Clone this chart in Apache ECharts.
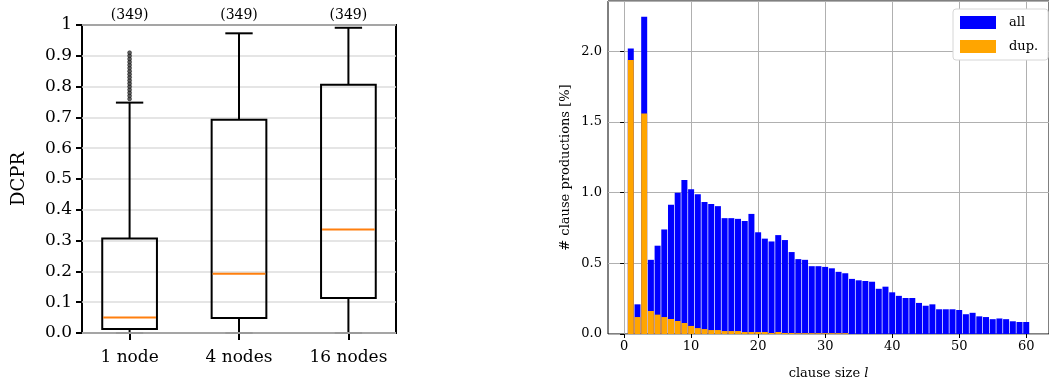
<!DOCTYPE html>
<html>
<head>
<meta charset="UTF-8">
<title>DCPR boxplot / clause size histogram</title>
<style>
  html, body { margin: 0; padding: 0; background: #fff; }
  #chart { width: 1049px; height: 385px; }
</style>
</head>
<body>
<div id="chart"></div>
<script src="https://cdn.jsdelivr.net/npm/echarts@6/dist/echarts.min.js"></script>
<script>
// left panel: DCPR per setup
var setups = ["1 node", "4 nodes", "16 nodes"];
var counts = [349, 349, 349];
// [min, Q1, median, Q3, max]
var boxStats = [
  [0.0, 0.013, 0.050, 0.307, 0.748],
  [0.0, 0.049, 0.192, 0.692, 0.973],
  [0.0, 0.114, 0.336, 0.806, 0.991]
];
var outliers1 = [0.76, 0.77, 0.78, 0.79, 0.80, 0.81, 0.82, 0.83, 0.84, 0.85, 0.86, 0.87, 0.88, 0.89, 0.90, 0.91];

// right panel: clause productions by clause size
var clauseSizes = [1, 2, 3, 4, 5, 6, 7, 8, 9, 10, 11, 12, 13, 14, 15, 16, 17, 18, 19, 20,
  21, 22, 23, 24, 25, 26, 27, 28, 29, 30, 31, 32, 33, 34, 35, 36, 37, 38, 39, 40,
  41, 42, 43, 44, 45, 46, 47, 48, 49, 50, 51, 52, 53, 54, 55, 56, 57, 58, 59, 60];
var allPct = [2.02, 0.21, 2.245, 0.525, 0.625, 0.74, 0.915, 1.0, 1.09, 1.025,
  0.99, 0.935, 0.92, 0.905, 0.82, 0.82, 0.815, 0.80, 0.85, 0.72,
  0.675, 0.655, 0.70, 0.665, 0.58, 0.53, 0.525, 0.48, 0.48, 0.475,
  0.465, 0.44, 0.43, 0.39, 0.38, 0.375, 0.37, 0.32, 0.335, 0.295,
  0.27, 0.255, 0.255, 0.22, 0.20, 0.21, 0.175, 0.175, 0.175, 0.17,
  0.14, 0.15, 0.125, 0.12, 0.105, 0.11, 0.105, 0.09, 0.085, 0.085];
var dupPct = [1.94, 0.12, 1.56, 0.163, 0.137, 0.12, 0.106, 0.092, 0.078, 0.057,
  0.042, 0.035, 0.028, 0.028, 0.021, 0.021, 0.021, 0.014, 0.014, 0.014,
  0.014, 0.007, 0.014, 0.007, 0.007, 0.006, 0.006, 0.006, 0.006, 0.006,
  0.006, 0.006, 0.006, 0, 0, 0, 0, 0, 0, 0,
  0, 0, 0, 0, 0, 0, 0, 0, 0, 0,
  0, 0, 0, 0, 0, 0, 0, 0, 0, 0];
var sizeTicks = [0, 10, 20, 30, 40, 50, 60];

var serif = "DejaVu Serif";
var chart = echarts.init(document.getElementById("chart"));

var boxData = boxStats.map(function (s, i) { return [i + 1].concat(s); });
var outlierData = outliers1.map(function (v) { return [1, v]; });

// matplotlib-like box: whiskers, half-width caps, orange median
function renderBox(params, api) {
  var x = api.value(0);
  var lo = api.value(1), q1 = api.value(2), med = api.value(3), q3 = api.value(4), hi = api.value(5);
  var a = api.coord([x - 0.25, q3]);
  var b = api.coord([x + 0.25, q1]);
  var c = api.coord([x, hi]);
  var d = api.coord([x, lo]);
  var pq1 = api.coord([x, q1]);
  var pq3 = api.coord([x, q3]);
  var capL = api.coord([x - 0.125, 0])[0];
  var capR = api.coord([x + 0.125, 0])[0];
  var m = api.coord([x, med]);
  var black = { stroke: "#000", lineWidth: 2, fill: null };
  return {
    type: "group",
    children: [
      { type: "line", shape: { x1: c[0], y1: c[1], x2: pq3[0], y2: pq3[1] }, style: black },
      { type: "line", shape: { x1: d[0], y1: d[1], x2: pq1[0], y2: pq1[1] }, style: black },
      { type: "line", shape: { x1: capL, y1: c[1], x2: capR, y2: c[1] }, style: black },
      { type: "line", shape: { x1: capL, y1: d[1], x2: capR, y2: d[1] }, style: { stroke: "#999", lineWidth: 2 } },
      { type: "rect", shape: { x: a[0], y: a[1], width: b[0] - a[0], height: b[1] - a[1] }, style: { stroke: "#000", lineWidth: 2, fill: "rgba(0,0,0,0)" } },
      { type: "line", shape: { x1: a[0] + 1, y1: m[1], x2: b[0] - 1, y2: m[1] }, style: { stroke: "#ff7f0e", lineWidth: 2 } }
    ]
  };
}

var option = {
  animation: false,
  backgroundColor: "#fff",
  textStyle: { fontFamily: serif },
  grid: [
    { left: 82, top: 25, width: 314, height: 308, show: true, borderColor: "#000", borderWidth: 2, backgroundColor: "transparent" },
    { left: 608, top: 1, width: 449, height: 333, show: true, borderColor: "#000", borderWidth: 1, backgroundColor: "transparent" }
  ],
  xAxis: [
    {
      gridIndex: 0, type: "value", min: 0.565, max: 3.435,
      axisLine: { show: false },
      axisTick: { show: true, customValues: [1, 2, 3], length: 7, lineStyle: { color: "#000", width: 2 } },
      axisLabel: {
        customValues: [1, 2, 3], margin: 16, color: "#000", fontFamily: serif, fontSize: 17,
        formatter: function (v) { return setups[Math.round(v) - 1]; }
      },
      splitLine: { show: false }
    },
    {
      gridIndex: 0, type: "value", position: "top", min: 0.565, max: 3.435,
      axisLine: { show: false },
      axisTick: { show: false, customValues: [1, 2, 3] },
      axisLabel: {
        customValues: [1, 2, 3], margin: 3, color: "#000", fontFamily: serif, fontSize: 14,
        formatter: function (v) { return "(" + counts[Math.round(v) - 1] + ")"; }
      },
      splitLine: { show: false }
    },
    {
      gridIndex: 1, type: "value", min: -2.4, max: 63.4,
      name: "clause size {i|l}", nameLocation: "middle", nameGap: 33,
      nameTextStyle: { color: "#000", fontFamily: serif, fontSize: 13, rich: { i: { fontStyle: "italic", fontFamily: serif, fontSize: 13 } } },
      axisLine: { show: false },
      axisTick: { show: true, customValues: sizeTicks, length: 4, lineStyle: { color: "#000", width: 1 } },
      axisLabel: { customValues: sizeTicks, margin: 6, color: "#000", fontFamily: serif, fontSize: 13 },
      splitLine: { show: true, lineStyle: { color: "#b0b0b0", width: 1 } }
    }
  ],
  yAxis: [
    {
      gridIndex: 0, type: "value", min: 0, max: 1, interval: 0.1,
      name: "DCPR", nameLocation: "middle", nameGap: 54,
      nameTextStyle: { color: "#000", fontFamily: serif, fontSize: 18 },
      axisLine: { show: false },
      axisTick: { show: true, length: 6, lineStyle: { color: "#000", width: 2 } },
      axisLabel: {
        margin: 10, color: "#000", fontFamily: serif, fontSize: 17,
        formatter: function (v) { return v >= 1 ? "1" : v.toFixed(1); }
      },
      splitLine: { show: true, lineStyle: { color: "#dcdcdc", width: 1.5 } }
    },
    {
      gridIndex: 1, type: "value", min: 0, max: 2.357, interval: 0.5,
      name: "# clause productions [%]", nameLocation: "middle", nameGap: 36,
      nameTextStyle: { color: "#000", fontFamily: serif, fontSize: 13 },
      axisLine: { show: false },
      axisTick: { show: true, length: 4, lineStyle: { color: "#000", width: 1 } },
      axisLabel: {
        margin: 6, color: "#000", fontFamily: serif, fontSize: 13, showMaxLabel: false,
        formatter: function (v) { return v.toFixed(1); }
      },
      splitLine: { show: true, lineStyle: { color: "#b0b0b0", width: 1 } }
    }
  ],
  legend: {
    data: ["all", "dup."],
    orient: "vertical", left: 953, top: 9,
    itemWidth: 36, itemHeight: 13, itemGap: 11,
    padding: [7, 10, 7, 7],
    icon: "rect",
    backgroundColor: "#fff", borderColor: "#d6d6d6", borderWidth: 1, borderRadius: 3,
    textStyle: { color: "#000", fontFamily: serif, fontSize: 13, padding: [0, 0, 0, 8] }
  },
  series: [
    {
      type: "custom", name: "boxes", xAxisIndex: 0, yAxisIndex: 0,
      renderItem: renderBox, data: boxData, z: 3
    },
    {
      type: "scatter", name: "outliers", xAxisIndex: 0, yAxisIndex: 0,
      symbol: "circle", symbolSize: 4, data: outlierData, z: 4,
      itemStyle: { color: "#444", borderColor: "#000", borderWidth: 0.5, opacity: 0.85 }
    },
    {
      type: "bar", name: "all", xAxisIndex: 2, yAxisIndex: 1,
      data: clauseSizes.map(function (s, i) { return [s, allPct[i]]; }),
      barWidth: 6, barGap: "-100%", itemStyle: { color: "#0000ff" }
    },
    {
      type: "bar", name: "dup.", xAxisIndex: 2, yAxisIndex: 1,
      data: clauseSizes.map(function (s, i) { return [s, dupPct[i]]; }),
      barWidth: 6, barGap: "-100%", itemStyle: { color: "#ffa500" }
    }
  ]
};

chart.setOption(option);
</script>
</body>
</html>
